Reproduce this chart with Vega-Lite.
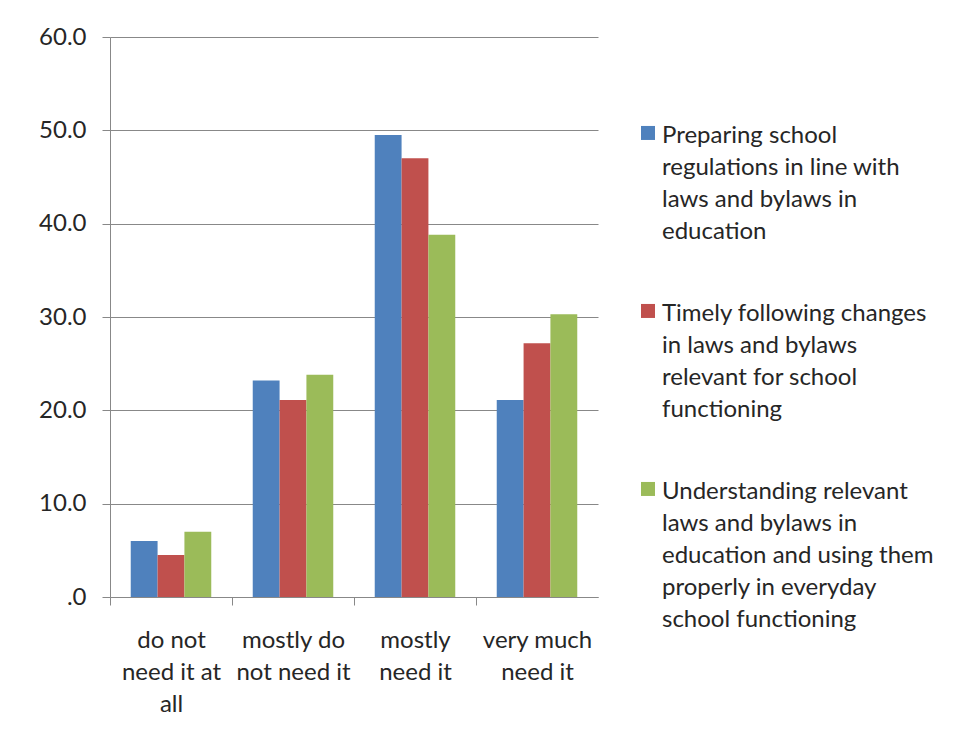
{
  "$schema": "https://vega.github.io/schema/vega-lite/v6.json",
  "autosize": {"type": "none"},
  "width": 488,
  "height": 560,
  "padding": {"left": 110, "top": 37, "right": 360, "bottom": 146},
  "background": "white",
  "config": {
    "font": "Lato",
    "view": {"stroke": null},
    "style": {"guide-label": {"lineHeight": 32}}
  },
  "data": {
    "values": [
      {"category": "do not need it at all", "series": "Preparing school regulations in line with laws and bylaws in education", "value": 6.0},
      {"category": "do not need it at all", "series": "Timely following changes in laws and bylaws relevant for school functioning", "value": 4.5},
      {"category": "do not need it at all", "series": "Understanding relevant laws and bylaws in education and using them properly in everyday school functioning", "value": 7.0},
      {"category": "mostly do not need it", "series": "Preparing school regulations in line with laws and bylaws in education", "value": 23.2},
      {"category": "mostly do not need it", "series": "Timely following changes in laws and bylaws relevant for school functioning", "value": 21.1},
      {"category": "mostly do not need it", "series": "Understanding relevant laws and bylaws in education and using them properly in everyday school functioning", "value": 23.8},
      {"category": "mostly need it", "series": "Preparing school regulations in line with laws and bylaws in education", "value": 49.5},
      {"category": "mostly need it", "series": "Timely following changes in laws and bylaws relevant for school functioning", "value": 47.0},
      {"category": "mostly need it", "series": "Understanding relevant laws and bylaws in education and using them properly in everyday school functioning", "value": 38.8},
      {"category": "very much need it", "series": "Preparing school regulations in line with laws and bylaws in education", "value": 21.1},
      {"category": "very much need it", "series": "Timely following changes in laws and bylaws relevant for school functioning", "value": 27.2},
      {"category": "very much need it", "series": "Understanding relevant laws and bylaws in education and using them properly in everyday school functioning", "value": 30.3}
    ]
  },
  "mark": {"type": "bar"},
  "encoding": {
    "x": {
      "field": "category",
      "type": "nominal",
      "sort": null,
      "scale": {"paddingInner": 0.34, "paddingOuter": 0.17},
      "axis": {
        "title": null,
        "labelAngle": 0,
        "labelFontSize": 24,
        "labelColor": "#262626",
        "labelPadding": 23,
        "labelBaseline": "top",
        "labelLimit": 0,
        "tickOffset": -61,
        "labelOffset": 61,
        "tickSize": 8,
        "tickColor": "#888888",
        "domainColor": "#888888",
        "labelExpr": "datum.value == 'do not need it at all' ? ['do not', 'need it at', 'all'] : datum.value == 'mostly do not need it' ? ['mostly do', 'not need it'] : datum.value == 'mostly need it' ? ['mostly', 'need it'] : ['very much', 'need it']"
      }
    },
    "xOffset": {"field": "series", "type": "nominal", "sort": null},
    "y": {
      "field": "value",
      "type": "quantitative",
      "scale": {"domain": [0, 60], "nice": false},
      "axis": {
        "title": null,
        "values": [0, 10, 20, 30, 40, 50, 60],
        "labelExpr": "datum.value == 0 ? '.0' : format(datum.value, '.1f')",
        "labelFontSize": 24,
        "labelColor": "#262626",
        "labelPadding": 16,
        "tickSize": 8,
        "tickColor": "#888888",
        "domainColor": "#888888",
        "gridColor": "#888888",
        "gridWidth": 1
      }
    },
    "color": {
      "field": "series",
      "type": "nominal",
      "sort": null,
      "scale": {"range": ["#4F81BD", "#C0504D", "#9BBB59"]},
      "legend": {
        "title": null,
        "orient": "none",
        "legendX": 524,
        "legendY": 73,
        "padding": 0,
        "symbolType": "M -0.5 0.14 H 0.5 V 1.14 H -0.5 Z",
        "symbolSize": 784,
        "symbolStrokeWidth": 0,
        "labelFontSize": 24,
        "labelColor": "#262626",
        "labelLimit": 0,
        "labelOffset": 0,
        "rowPadding": 44,
        "labelBaseline": "top",
        "labelExpr": "datum.value[0] == 'P' ? ['Preparing school', 'regulations in line with', 'laws and bylaws in', 'education'] : datum.value[0] == 'T' ? ['Timely following changes', 'in laws and bylaws', 'relevant for school', 'functioning'] : ['Understanding relevant', 'laws and bylaws in', 'education and using them', 'properly in everyday', 'school functioning']"
      }
    }
  }
}
